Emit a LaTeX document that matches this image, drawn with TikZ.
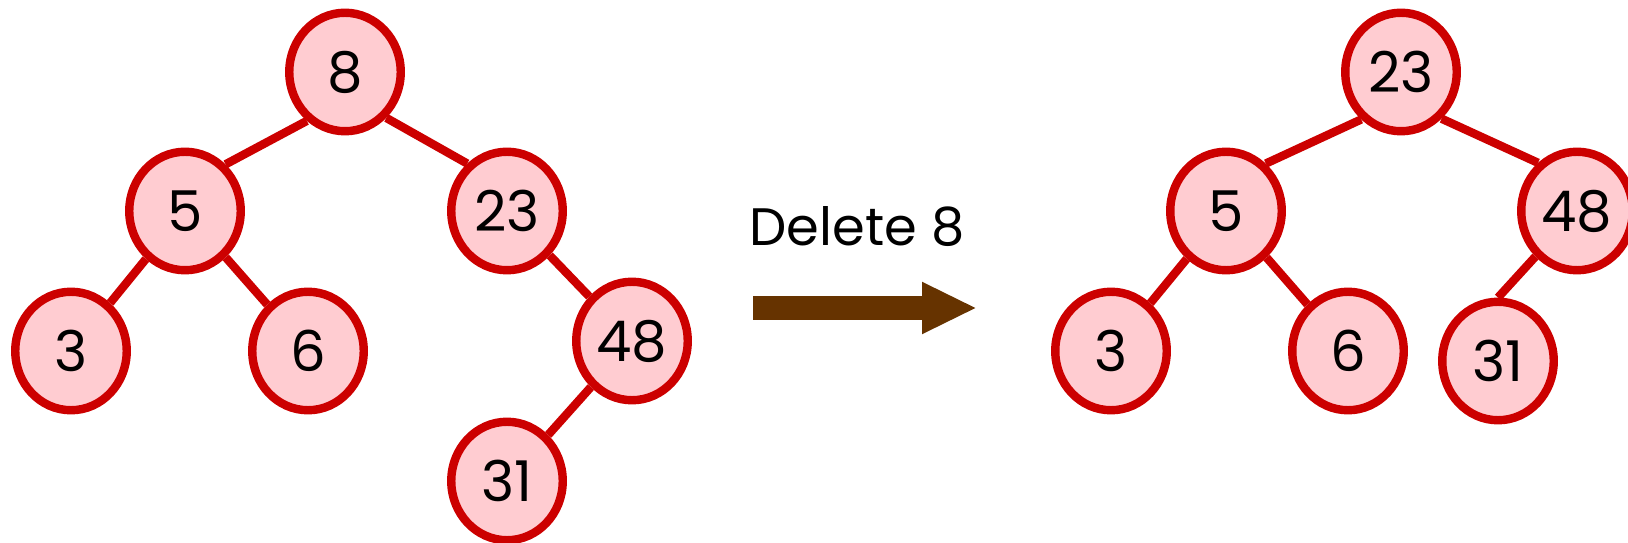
\documentclass[tikz,border=0pt]{standalone}
\usepackage{fontspec}
\setmainfont{Poppins}
\usepackage{xcolor}
\definecolor{ringred}{RGB}{204,0,0}
\definecolor{keypink}{RGB}{255,204,209}
\definecolor{arrowbrown}{RGB}{102,51,0}
\usepackage{tikz}
\usetikzlibrary{shapes.geometric, arrows.meta}

\begin{document}
\begin{tikzpicture}[
  x=0.02cm, y=-0.02cm,
  font=\fontsize{30}{36}\selectfont,
  keynode/.style={ellipse, draw=ringred, fill=keypink, line width=4.8pt, minimum width=2.23cm, minimum height=2.37cm, inner sep=0pt, font=\fontsize{32}{38}\selectfont},
  link/.style={draw=ringred, line width=4.8pt},
  bigarrow/.style={arrowbrown, line width=0.48cm, -{Triangle[length=1.1cm, width=0.96cm]}}
]
  \useasboundingbox (0,0) rectangle (1628,543);

  % tree before deletion
  \node[keynode] (l8)  at (345,72)  {8};
  \node[keynode] (l5)  at (185,211) {5};
  \node[keynode] (l23) at (507,211) {23};
  \node[keynode] (l3)  at (71,351)  {3};
  \node[keynode] (l6)  at (308,351) {6};
  \node[keynode] (l48) at (632,341) {48};
  \node[keynode] (l31) at (507,481) {31};

  \draw[link] (l8.232) -- (l5.49);
  \draw[link] (l8.-48) -- (l23.130);
  \draw[link] (l5) -- (l3);
  \draw[link] (l5) -- (l6);
  \draw[link] (l23) -- (l48);
  \draw[link] (l48) -- (l31);

  % operation
  \node (del) at (857,227) {Delete 8};
  \coordinate (from) at (753,308);
  \coordinate (to)   at (977,308);
  \draw[bigarrow] (from) -- (to);

  % tree after deletion
  \node[keynode] (r23) at (1401,72)  {23};
  \node[keynode] (r5)  at (1226,211) {5};
  \node[keynode] (r48) at (1577,211) {48};
  \node[keynode] (r3)  at (1111,351) {3};
  \node[keynode] (r6)  at (1348,351) {6};
  \node[keynode] (r31) at (1498,361) {31};

  \draw[link] (r23.230) -- (r5.50);
  \draw[link] (r23.-49) -- (r48.129);
  \draw[link] (r5) -- (r3);
  \draw[link] (r5) -- (r6);
  \draw[link] (r48) -- (r31.north);
\end{tikzpicture}
\end{document}
